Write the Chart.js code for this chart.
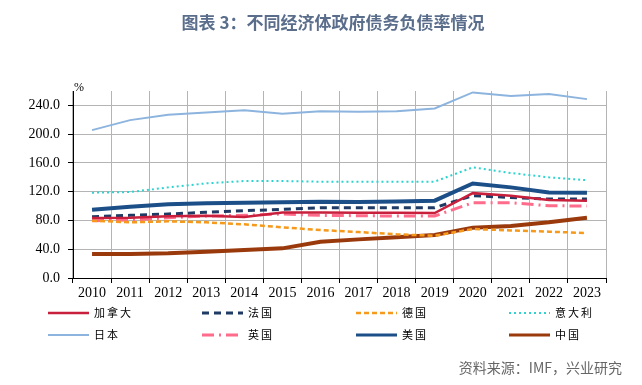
<!DOCTYPE html>
<html>
<head>
<meta charset="utf-8">
<script src="https://cdn.jsdelivr.net/npm/chart.js@4/dist/chart.umd.min.js"></script>
<style>
  html, body { margin: 0; padding: 0; background: #fff; }
  #wrap { position: relative; width: 642px; height: 385px; }
</style>
</head>
<body>
<div id="wrap"><canvas id="c" width="642" height="385"></canvas></div>
<script>
// years on the x axis
var years = ['2010','2011','2012','2013','2014','2015','2016','2017','2018','2019','2020','2021','2022','2023']

// government debt / GDP, %
var canada  = [83.4, 83.8, 85.7, 86.6, 84.7, 91.2, 91.2, 90.8, 90.6, 90.3, 118.0, 114.4, 108.4, 107.5]
var france  = [85.2, 87.1, 89.0, 91.3, 93.6, 95.4, 97.8, 97.8, 97.8, 97.8, 114.4, 112.0, 109.8, 109.8]
var germany = [79.7, 77.4, 78.8, 77.4, 74.6, 70.4, 66.7, 63.9, 60.7, 58.8, 68.1, 66.2, 64.4, 62.5]
var italy   = [118.6, 119.5, 126.0, 131.6, 134.8, 134.8, 133.9, 133.9, 133.9, 134.0, 153.8, 146.0, 140.0, 136.0]
var japan   = [205.6, 219.5, 227.0, 230.0, 233.4, 228.3, 232.0, 231.0, 232.0, 235.8, 258.0, 253.0, 255.7, 248.7]
var uk      = [79.7, 80.6, 83.8, 86.2, 87.1, 89.0, 87.1, 86.6, 86.2, 86.2, 104.7, 104.7, 100.5, 100.0]
var usa     = [95.0, 99.0, 102.4, 103.8, 104.7, 105.2, 106.1, 105.6, 106.5, 107.5, 131.5, 126.0, 119.0, 118.6]
var china   = [33.3, 33.3, 34.3, 36.6, 38.9, 41.2, 50.4, 53.7, 56.5, 59.7, 70.0, 72.2, 77.4, 83.8]

var yTicks = [0, 40, 80, 120, 160, 200, 240]

function line(label, data, color, width, dash) {
  return {
    label: label, data: data, borderColor: color, backgroundColor: color,
    borderWidth: width, borderDash: dash || [], pointRadius: 0, tension: 0, fill: false
  }
}

var datasets = [
  line('加拿大', canada, '#c8203c', 2.5),
  line('法国', france, '#1f3a64', 3, [7, 5]),
  line('德国', germany, '#f59a1c', 2.5, [5, 3]),
  line('意大利', italy, '#2ed3cf', 2, [2, 3]),
  line('日本', japan, '#8cb4de', 2),
  line('英国', uk, '#ff6b8b', 3, [12, 5, 2, 5]),
  line('美国', usa, '#1c4f88', 4),
  line('中国', china, '#9a3a0c', 4)
]

// title, % unit, legend and source text
var extras = {
  id: 'extras',
  afterDraw: function(chart) {
    var ctx = chart.ctx
    ctx.save()
    ctx.fillStyle = '#5a6e8c'
    ctx.font = 'bold 17px "Noto Sans CJK SC"'
    ctx.textAlign = 'center'
    ctx.textBaseline = 'middle'
    ctx.fillText('图表 3：不同经济体政府债务负债率情况', 333, 23)

    ctx.fillStyle = '#000'
    ctx.font = '12px "Liberation Serif"'
    ctx.textAlign = 'center'
    ctx.fillText('%', 79, 88)

    var colX = [48, 202, 356, 509], rowY = [313, 335]
    chart.data.datasets.forEach(function(ds, i) {
      var x = colX[i % 4], y = rowY[Math.floor(i / 4)]
      ctx.strokeStyle = ds.borderColor
      ctx.lineWidth = Math.min(ds.borderWidth, 3)
      ctx.setLineDash(ds.borderDash)
      ctx.beginPath()
      ctx.moveTo(x, y)
      ctx.lineTo(x + 41, y)
      ctx.stroke()
      ctx.setLineDash([])
      ctx.fillStyle = '#000'
      ctx.font = '11px "Noto Sans CJK SC"'
      ctx.textAlign = 'left'
      for (var k = 0; k < ds.label.length; k++) {
        ctx.fillText(ds.label[k], x + 46 + k * 13, y)
      }
    })

    ctx.fillStyle = '#666'
    ctx.font = '14px "Noto Sans CJK SC"'
    ctx.textAlign = 'right'
    ctx.fillText('资料来源：IMF，兴业研究', 622, 368)
    ctx.restore()
  }
}

new Chart(document.getElementById('c'), {
  type: 'line',
  data: { labels: years, datasets: datasets },
  plugins: [extras],
  options: {
    responsive: false,
    animation: false,
    layout: { padding: { left: 0, top: 91, right: 36, bottom: 82 } },
    plugins: { legend: { display: false }, tooltip: { enabled: false } },
    scales: {
      x: {
        offset: true,
        grid: { offset: true, color: '#b4b4b4', tickColor: '#000', tickLength: 5 },
        border: { color: '#000', width: 1 },
        ticks: { color: '#000', font: { family: 'Liberation Serif', size: 14 }, padding: 2, maxRotation: 0, autoSkip: false },
        afterFit: function(s) { s.height = 25 }
      },
      y: {
        min: 0, max: 260,
        afterBuildTicks: function(s) { s.ticks = yTicks.map(function(v) { return { value: v } }) },
        grid: { color: '#b4b4b4', tickColor: '#000', tickLength: 5 },
        border: { color: '#000', width: 1 },
        ticks: {
          color: '#000', font: { family: 'Liberation Serif', size: 14 }, padding: 8,
          callback: function(v) { return v.toFixed(1) }
        },
        afterFit: function(s) { s.width = 73 }
      }
    }
  }
})
</script>
</body>
</html>
